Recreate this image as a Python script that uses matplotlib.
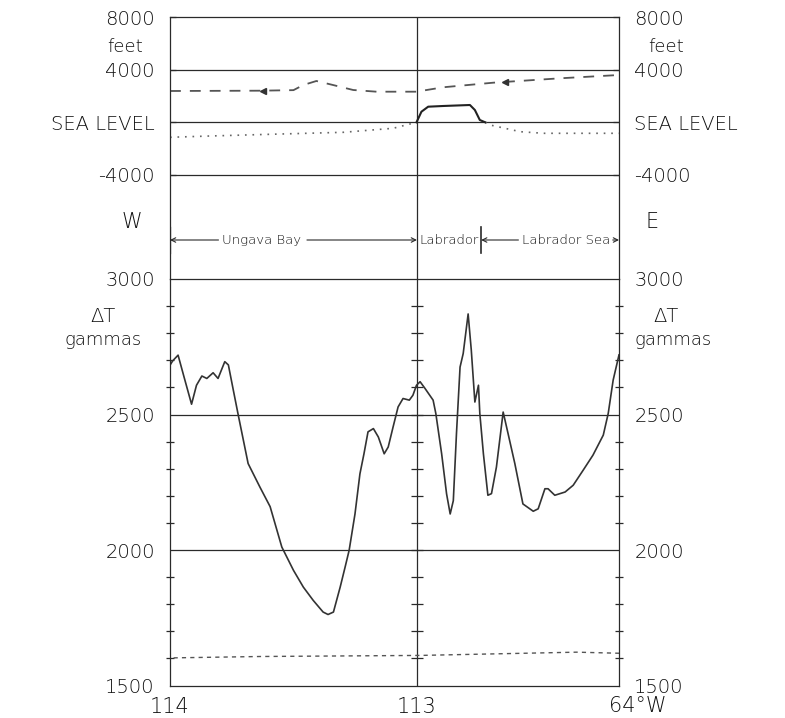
import numpy as np
import matplotlib
matplotlib.use("Agg")
import matplotlib.pyplot as plt
from matplotlib.transforms import offset_copy

# ---------------- data (x = position along track, 0 = west end, 100 = east end) -------------
# magnetic total-field anomaly (gammas)
mag_x = [0.0, 0.6, 1.8, 3.1, 4.8, 5.9, 7.1, 8.2, 9.6, 10.7, 12.2, 13.0, 14.1, 15.2, 17.4,
         20.0, 22.3, 24.9, 27.5, 29.7, 31.9, 34.1, 35.2, 36.4, 37.9, 39.0, 39.9, 41.2, 42.3,
         43.2, 44.1, 45.3, 46.4, 47.7, 48.6, 49.7, 50.8, 51.9, 53.3, 54.1, 54.9, 55.7, 56.8,
         58.6, 59.2, 60.5, 61.6, 62.4, 63.1, 63.8, 64.6, 65.3, 66.4, 67.1, 67.9, 68.7, 69.0,
         69.8, 70.8, 71.6, 72.7, 74.2, 75.3, 76.8, 78.6, 80.9, 82.0, 83.5, 84.2, 85.7, 88.0,
         89.8, 92.0, 94.2, 96.5, 97.6, 98.7, 100.0]
mag_dT = [2682, 2698, 2719, 2640, 2538, 2608, 2642, 2633, 2654, 2633, 2695, 2683, 2590, 2498,
          2319, 2233, 2160, 2011, 1925, 1863, 1814, 1771, 1762, 1771, 1863, 1937, 1999, 2133,
          2281, 2355, 2436, 2448, 2417, 2355, 2380, 2455, 2528, 2559, 2553, 2571, 2608, 2621,
          2596, 2553, 2504, 2355, 2207, 2133, 2182, 2429, 2675, 2725, 2871, 2738, 2546, 2608,
          2504, 2355, 2202, 2208, 2306, 2509, 2429, 2319, 2170, 2143, 2152, 2226, 2226, 2202,
          2214, 2239, 2294, 2350, 2424, 2504, 2627, 2720]

# reference level (dashed, lower panel)
base_x = [0.8, 20.0, 55.7, 90.6, 100.0]
base_dT = [1602, 1607, 1611, 1623, 1619]

# flight altitude (feet)
alt_x = [0.0, 20.0, 27.5, 29.7, 32.6, 36.3, 40.8, 46.0, 54.9, 60.8, 72.0, 86.9, 100.0]
alt_ft = [2385, 2408, 2450, 2842, 3147, 2842, 2461, 2332, 2332, 2667, 3018, 3353, 3604]
arrow_x = [20.7, 74.6]

# sea floor (feet, dotted) and land (feet, solid)
sea_w_x = [0.0, 8.9, 22.3, 38.6, 49.7, 54.9]
sea_w_ft = [-1143, -1044, -914, -762, -457, 0]
land_x = [54.9, 56.0, 57.5, 60.8, 66.8, 67.9, 69.0, 70.2]
land_ft = [0, 808, 1189, 1242, 1318, 937, 175, 0]
sea_e_x = [70.2, 71.3, 78.0, 83.2, 100.0]
sea_e_ft = [0, -206, -716, -838, -838]

# axis ticks / labels
x_ticks = [0, 55, 100]
x_labels = ["114", "113", ""]
top_ticks = [8000, 4000, 0, -4000]
top_labels = ["8000", "4000", "SEA LEVEL", "-4000"]
mag_ticks = [1500, 2000, 2500, 3000]
mag_labels = ["1500", "2000", "2500", "3000"]
mag_minor = list(range(1600, 3000, 100))

# region boundaries
regions = {"Ungava Bay": (0, 55), "Labrador": (55, 69.3), "Labrador Sea": (69.3, 100)}

# ---------------- figure ----------------
INK = "#2a2a2a"
TXT = "#111111"
LW = 0.9
plt.rcParams["font.family"] = ["DejaVu Sans"]
plt.rcParams["font.weight"] = "light"
fig = plt.figure(figsize=(7.85, 7.18), dpi=100)
W, H = 785, 718
L, R = 170, 619
y_top, y_mid, y_bot = 17.3, 279, 685.5


def fbox(y1, y2):
    return [L / W, 1 - y2 / H, (R - L) / W, (y2 - y1) / H]


ax1 = fig.add_axes(fbox(y_top, y_mid))
ax2 = fig.add_axes(fbox(y_mid, y_bot))

for ax in (ax1, ax2):
    ax.set_xlim(0, 100)
    for s in ax.spines.values():
        s.set_color(INK)
        s.set_linewidth(LW)
    ax.axvline(x_ticks[1], color=INK, lw=LW)

# ---- top panel (topography / flight altitude) ----
px_per_4000 = 52.5
ft_bottom = -4000 - (y_mid - 174.8) / px_per_4000 * 4000
ax1.set_ylim(ft_bottom, 8000)
ax1.spines["bottom"].set_visible(False)
ax1.set_xticks([])
ax1.set_yticks(top_ticks)
ax1.set_yticklabels(top_labels)
for t in top_ticks[1:]:
    ax1.axhline(t, color=INK, lw=LW)
ax1.tick_params(axis="y", which="both", left=True, right=True, labelleft=True,
                labelright=True, direction="in", length=4, color=INK, width=LW,
                labelsize=14, labelcolor=TXT, pad=11)

ax1.plot(alt_x, alt_ft, color="#555555", lw=1.3, ls=(0, (6, 5)))
ax1.plot(arrow_x, np.interp(arrow_x, alt_x, alt_ft), ls="none", marker="<",
         ms=4.5, color="#333333")
ax1.plot(sea_w_x, sea_w_ft, color="#666666", lw=1.2, ls=(0, (1, 3.5)))
ax1.plot(sea_e_x, sea_e_ft, color="#666666", lw=1.2, ls=(0, (1, 3.5)))
ax1.plot(land_x, land_ft, color="#222222", lw=1.5)

# side labels of top panel
ytr1 = ax1.get_yaxis_transform()
ax1.text(-0.10, 8000 - 2300, "feet", transform=ytr1, ha="center", va="center",
         fontsize=13, color=TXT)
ax1.text(1.105, 8000 - 2300, "feet", transform=ytr1, ha="center", va="center",
         fontsize=13, color=TXT)
ft_row = -4000 - (222 - 174.8) / px_per_4000 * 4000
ax1.text(-0.085, ft_row, "W", transform=ytr1, ha="center", va="center", fontsize=15,
         color=TXT)
ax1.text(1.073, ft_row, "E", transform=ytr1, ha="center", va="center", fontsize=15,
         color=TXT)

# region annotation row
ft_reg = -4000 - (240 - 174.8) / px_per_4000 * 4000
ft_bar_hi = -4000 - (227 - 174.8) / px_per_4000 * 4000
ft_bar_lo = -4000 - (253 - 174.8) / px_per_4000 * 4000
arw = dict(arrowstyle="->", color=INK, lw=0.8, shrinkA=0, shrinkB=0, mutation_scale=8)
rfont = dict(fontsize=9.5, color=TXT, va="center", ha="center")

x0, x1 = regions["Ungava Bay"]
ax1.text(20.5, ft_reg, "Ungava Bay", **rfont)
ax1.annotate("", xy=(x0, ft_reg), xytext=(10.8, ft_reg), arrowprops=arw)
ax1.annotate("", xy=(x1, ft_reg), xytext=(30.5, ft_reg), arrowprops=arw)
ax1.plot([x0, x0], [ft_bar_lo, ft_bar_hi], color=INK, lw=LW)

x0, x1 = regions["Labrador"]
ax1.text((x0 + x1) / 2, ft_reg, "Labrador", **rfont)
ax1.plot([x1, x1], [ft_bar_lo, ft_bar_hi], color=INK, lw=1.2)

x0, x1 = regions["Labrador Sea"]
ax1.text(88.2, ft_reg, "Labrador Sea", **rfont)
ax1.annotate("", xy=(x0, ft_reg), xytext=(77.6, ft_reg), arrowprops=arw)
ax1.annotate("", xy=(x1, ft_reg), xytext=(98.6, ft_reg), arrowprops=arw)

# ---- lower panel (magnetics) ----
ax2.set_ylim(1500, 3000)
ax2.set_yticks(mag_ticks)
ax2.set_yticklabels(mag_labels)
ax2.set_yticks(mag_minor, minor=True)
for t in mag_ticks[1:3]:
    ax2.axhline(t, color=INK, lw=LW)
ax2.tick_params(axis="y", which="major", left=True, right=True, labelleft=True,
                labelright=True, direction="in", length=0, labelsize=14,
                labelcolor=TXT, pad=11)
ax2.tick_params(axis="y", which="minor", left=True, right=False, direction="in",
                length=4, color=INK, width=LW)
ax2.tick_params(axis="y", which="minor", right=True, direction="inout", length=6)
ax2.plot([x_ticks[1]] * len(mag_minor), mag_minor, ls="none", marker="_", ms=8,
         mew=LW, color=INK)

ax2.set_xticks(x_ticks)
ax2.set_xticklabels(x_labels)
ax2.tick_params(axis="x", length=0, labelsize=15, labelcolor=TXT, pad=8)
ax2.text(1.0, 0, "64°W", transform=offset_copy(ax2.transAxes, fig=fig, x=19, y=-20,
                                               units="dots"),
         ha="center", va="center", fontsize=15, color=TXT)

ax2.plot(mag_x, mag_dT, color="#333333", lw=1.2)
ax2.plot(base_x, base_dT, color="#555555", lw=1.0, ls=(0, (3, 3)))

ytr2 = ax2.get_yaxis_transform()
ax2.text(-0.15, 2860, "ΔT", transform=ytr2, ha="center", va="center", fontsize=14,
         color=TXT)
ax2.text(-0.15, 2775, "gammas", transform=ytr2, ha="center", va="center", fontsize=13,
         color=TXT)
ax2.text(1.105, 2860, "ΔT", transform=ytr2, ha="center", va="center", fontsize=14,
         color=TXT)
ax2.text(1.12, 2775, "gammas", transform=ytr2, ha="center", va="center", fontsize=13,
         color=TXT)

fig.savefig("out.png", dpi=100, facecolor="white")
